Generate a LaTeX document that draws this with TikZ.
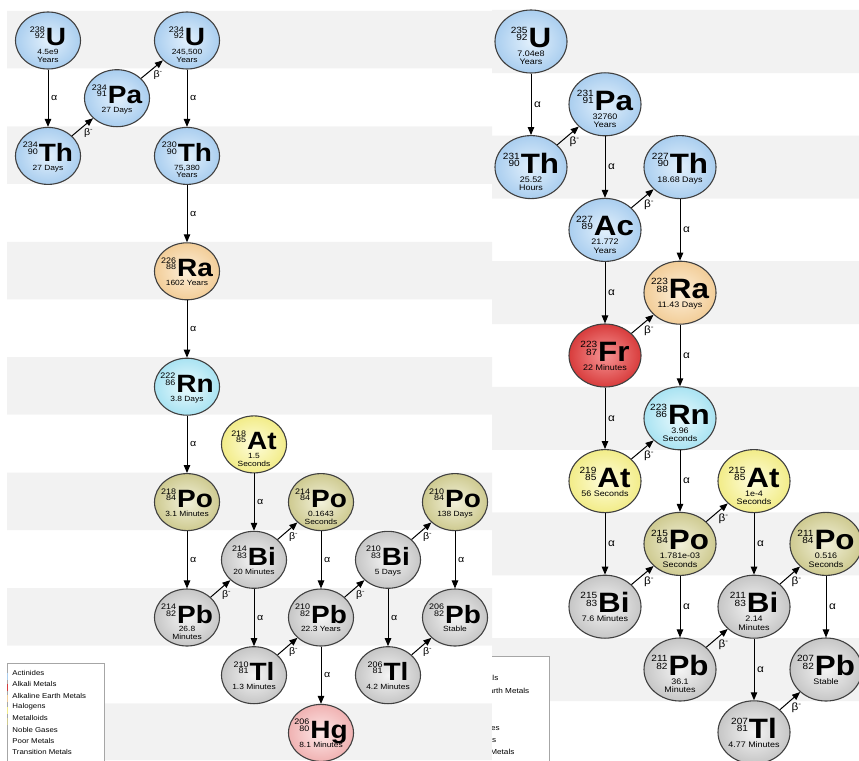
\documentclass[tikz,border=0pt]{standalone}
\usepackage{fontspec}
\setmainfont{Liberation Sans}[FakeStretch=1.12]
\usetikzlibrary{shapes.geometric,arrows.meta}

\definecolor{stripe}{HTML}{F2F2F2}
\definecolor{actin}{HTML}{E2F0FC}\definecolor{actout}{HTML}{AACEEF}
\definecolor{earthin}{HTML}{FDEFD9}\definecolor{earthout}{HTML}{F2CD98}
\definecolor{noblein}{HTML}{EAFAFD}\definecolor{nobleout}{HTML}{A9E3F2}
\definecolor{haloin}{HTML}{FEFDDC}\definecolor{haloout}{HTML}{F2EC88}
\definecolor{metalin}{HTML}{F2F1DA}\definecolor{metalout}{HTML}{CECA90}
\definecolor{poorin}{HTML}{F4F4F4}\definecolor{poorout}{HTML}{C6C6C6}
\definecolor{transin}{HTML}{FDE8E8}\definecolor{transout}{HTML}{F0B2B2}
\definecolor{alkin}{HTML}{F69494}\definecolor{alkout}{HTML}{D83C3C}

\newcommand{\symsz}{25}
\newcommand{\numsz}{8}
\newcommand{\numrs}{7pt}
\newcommand{\hlsz}{7.5}
\newcommand{\hlsk}{7.6}
\newcommand{\labsz}{9.5}
\newcommand{\legsz}{7}
\newcommand{\labfont}{\fontsize{\labsz}{\labsz}\selectfont}
\newcommand{\bminus}{β\textsuperscript{-}}
% #1 mass, #2 Z, #3 symbol, #4 half-life
\newcommand{\iso}[4]{\makebox[0pt]{\begin{tabular}[t]{@{}c@{}}%
  \smash{\fontsize{\numsz}{\numsz}\selectfont
  \raisebox{\numrs}{\renewcommand{\arraystretch}{0}\begin{tabular}[b]{@{}r@{}}#1\\[1pt]#2\end{tabular}}\hspace{1pt}%
  \fontsize{\symsz}{\symsz}\selectfont\bfseries #3}\\[0.8pt]
  \fontsize{\hlsz}{\hlsk}\selectfont\begin{tabular}[t]{@{}c@{}}#4\end{tabular}
  \end{tabular}}}

\begin{document}
\begin{tikzpicture}[x=1pt,y=-1pt,auto,line width=1pt,>={Triangle[length=8pt,width=6.5pt]},
  every node/.style={font=\labfont,inner sep=2.5pt},
  iso/.style={ellipse,draw=black!75,line width=1.1pt,minimum width=65pt,minimum height=57pt,
    inner sep=0pt,text height=15pt,text depth=4pt,font=\fontsize{7}{8}\selectfont},
  act/.style={iso,inner color=actin,outer color=actout},
  earth/.style={iso,inner color=earthin,outer color=earthout},
  noble/.style={iso,inner color=noblein,outer color=nobleout},
  halo/.style={iso,inner color=haloin,outer color=haloout},
  metal/.style={iso,inner color=metalin,outer color=metalout},
  poor/.style={iso,inner color=poorin,outer color=poorout},
  transm/.style={iso,inner color=transin,outer color=transout},
  alk/.style={iso,inner color=alkin,outer color=alkout},
  leg/.style={anchor=west,inner sep=0pt,font=\fontsize{\legsz}{\legsz}\selectfont},
  bl/.style={swap,inner sep=1pt}]
\useasboundingbox (0,0) rectangle (859,760);
\clip (0,0) rectangle (859,760);

% background bands
\fill[stripe] (7,11) rectangle (492,68.5) (7,126.4) rectangle (492,183.9)
  (7,241.8) rectangle (492,299.3) (7,357.2) rectangle (492,414.7)
  (7,472.6) rectangle (492,530.1) (7,588) rectangle (492,645.5)
  (7,703.4) rectangle (492,760);
\fill[stripe] (492,10) rectangle (859,73) (492,135.6) rectangle (859,198.6)
  (492,261.2) rectangle (859,324.2) (492,386.8) rectangle (859,449.8)
  (492,512.4) rectangle (859,575.4) (492,638) rectangle (859,701);

% legends
\draw[gray!70,line width=.8pt,fill=white] (7,663) rectangle (104,775);
\foreach \c [count=\i] in {actout,alkout,earthout,haloout,metalout}
  \draw[\c,line width=1.2pt] (7.6,668.5+11.3*\i) -- ++(0,-7);
\foreach \t [count=\i] in {Actinides,Alkali Metals,Alkaline Earth Metals,Halogens,Metalloids,Noble Gases,Poor Metals,Transition Metals}
  \node[leg] (la\i) at (12,661.7+11.3*\i) {\t};
\begin{scope}
\clip (492,640) rectangle (600,760);
\renewcommand{\legsz}{7.3}
\draw[gray!70,line width=.8pt,fill=white] (447,656) rectangle (549,775);
\foreach \t [count=\i] in {Actinides,Alkali Metals,Alkaline Earth Metals,Halogens,Metalloids,Noble Gases,Poor Metals,Transition Metals}
  \node[leg] (lb\i) at (452,653.7+12.3*\i) {\t};
\end{scope}

% U-238 series
\node[act] (U238) at (48,40.5) {\iso{238}{92}{U}{4.5e9\\Years}};
\node[act] (Th234) at (48,155.9) {\iso{234}{90}{Th}{27 Days}};
\node[act] (Pa234) at (117,98.2) {\iso{234}{91}{Pa}{27 Days}};
\node[act] (U234) at (187,40.5) {\iso{234}{92}{U}{245,500\\Years}};
\node[act] (Th230) at (187,155.9) {\iso{230}{90}{Th}{75,380\\Years}};
\node[earth] (Ra226) at (187,271.3) {\iso{226}{88}{Ra}{1602 Years}};
\node[noble] (Rn222) at (187,386.7) {\iso{222}{86}{Rn}{3.8 Days}};
\node[halo] (At218) at (254,444.4) {\iso{218}{85}{At}{1.5\\Seconds}};
\node[metal] (Po218) at (187,502.1) {\iso{218}{84}{Po}{3.1 Minutes}};
\node[poor] (Bi214) at (254,559.8) {\iso{214}{83}{Bi}{20 Minutes}};
\node[metal] (Po214) at (321,502.1) {\iso{214}{84}{Po}{0.1643\\Seconds}};
\node[poor] (Pb214) at (187,617.5) {\iso{214}{82}{Pb}{26.8\\Minutes}};
\node[poor] (Tl210) at (254,675.2) {\iso{210}{81}{Tl}{1.3 Minutes}};
\node[poor] (Pb210) at (321,617.5) {\iso{210}{82}{Pb}{22.3 Years}};
\node[transm] (Hg206) at (321,732.9) {\iso{206}{80}{Hg}{8.1 Minutes}};
\node[poor] (Bi210) at (388,559.8) {\iso{210}{83}{Bi}{5 Days}};
\node[metal] (Po210) at (455,502.1) {\iso{210}{84}{Po}{138 Days}};
\node[poor] (Tl206) at (388,675.2) {\iso{206}{81}{Tl}{4.2 Minutes}};
\node[poor] (Pb206) at (455,617.5) {\iso{206}{82}{Pb}{Stable}};

\draw[->] (U238) edge node{α} (Th234);
\draw[->] (Th234) edge node[bl]{\bminus} (Pa234);
\draw[->] (Pa234) edge node[bl]{\bminus} (U234);
\draw[->] (U234) edge node{α} (Th230);
\draw[->] (Th230) edge node{α} (Ra226);
\draw[->] (Ra226) edge node{α} (Rn222);
\draw[->] (Rn222) edge node{α} (Po218);
\draw[->] (Po218) edge node{α} (Pb214);
\draw[->] (At218) edge node{α} (Bi214);
\draw[->] (Pb214) edge node[bl]{\bminus} (Bi214);
\draw[->] (Bi214) edge node[bl]{\bminus} (Po214);
\draw[->] (Bi214) edge node{α} (Tl210);
\draw[->] (Po214) edge node{α} (Pb210);
\draw[->] (Tl210) edge node[bl]{\bminus} (Pb210);
\draw[->] (Pb210) edge node{α} (Hg206);
\draw[->] (Pb210) edge node[bl]{\bminus} (Bi210);
\draw[->] (Bi210) edge node[bl]{\bminus} (Po210);
\draw[->] (Bi210) edge node{α} (Tl206);
\draw[->] (Po210) edge node{α} (Pb206);
\draw[->] (Tl206) edge node[bl]{\bminus} (Pb206);

% U-235 series
\begin{scope}[iso/.append style={minimum width=72pt,minimum height=63pt,text height=16pt,text depth=4pt}]
\renewcommand{\symsz}{28}\renewcommand{\numsz}{9}\renewcommand{\numrs}{6.5pt}
\renewcommand{\hlsz}{8}\renewcommand{\hlsk}{8.3}\renewcommand{\labsz}{10.5}
\node[act] (U235) at (531,41.5) {\iso{235}{92}{U}{7.04e8\\Years}};
\node[act] (Th231) at (531,167.1) {\iso{231}{90}{Th}{25.52\\Hours}};
\node[act] (Pa231) at (605,104.3) {\iso{231}{91}{Pa}{32760\\Years}};
\node[act] (Ac227) at (605,229.9) {\iso{227}{89}{Ac}{21.772\\Years}};
\node[act] (Th227) at (680,167.1) {\iso{227}{90}{Th}{18.68 Days}};
\node[earth] (Ra223) at (680,292.7) {\iso{223}{88}{Ra}{11.43 Days}};
\node[alk] (Fr223) at (605,355.5) {\iso{223}{87}{Fr}{22 Minutes}};
\node[noble] (Rn223) at (680,418.3) {\iso{223}{86}{Rn}{3.96\\Seconds}};
\node[halo] (At219) at (605,481.1) {\iso{219}{85}{At}{56 Seconds}};
\node[metal] (Po215) at (680,543.9) {\iso{215}{84}{Po}{1.781e-03\\Seconds}};
\node[halo] (At215) at (754,481.1) {\iso{215}{85}{At}{1e-4\\Seconds}};
\node[poor] (Bi215) at (605,606.7) {\iso{215}{83}{Bi}{7.6 Minutes}};
\node[poor] (Pb211) at (680,669.5) {\iso{211}{82}{Pb}{36.1\\Minutes}};
\node[poor] (Bi211) at (754,606.7) {\iso{211}{83}{Bi}{2.14\\Minutes}};
\node[metal] (Po211) at (826,543.9) {\iso{211}{84}{Po}{0.516\\Seconds}};
\node[poor] (Tl207) at (754,732.3) {\iso{207}{81}{Tl}{4.77 Minutes}};
\node[poor] (Pb207) at (826,669.5) {\iso{207}{82}{Pb}{Stable}};

\draw[->] (U235) edge node{α} (Th231);
\draw[->] (Th231) edge node[bl]{\bminus} (Pa231);
\draw[->] (Pa231) edge node{α} (Ac227);
\draw[->] (Ac227) edge node[bl]{\bminus} (Th227);
\draw[->] (Th227) edge node{α} (Ra223);
\draw[->] (Ac227) edge node{α} (Fr223);
\draw[->] (Fr223) edge node[bl]{\bminus} (Ra223);
\draw[->] (Ra223) edge node{α} (Rn223);
\draw[->] (Fr223) edge node{α} (At219);
\draw[->] (At219) edge node[bl]{\bminus} (Rn223);
\draw[->] (Rn223) edge node{α} (Po215);
\draw[->] (At219) edge node{α} (Bi215);
\draw[->] (Po215) edge node[bl]{\bminus} (At215);
\draw[->] (Bi215) edge node[bl]{\bminus} (Po215);
\draw[->] (Po215) edge node{α} (Pb211);
\draw[->] (At215) edge node{α} (Bi211);
\draw[->] (Pb211) edge node[bl]{\bminus} (Bi211);
\draw[->] (Bi211) edge node[bl]{\bminus} (Po211);
\draw[->] (Bi211) edge node{α} (Tl207);
\draw[->] (Po211) edge node{α} (Pb207);
\draw[->] (Tl207) edge node[bl]{\bminus} (Pb207);
\end{scope}
\end{tikzpicture}
\end{document}
